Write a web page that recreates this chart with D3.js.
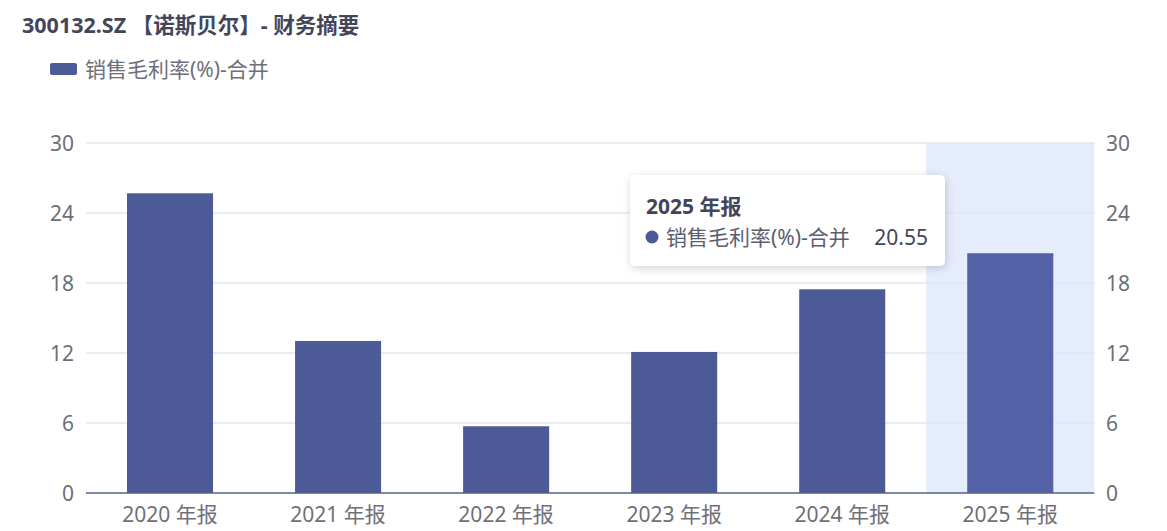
<!DOCTYPE html>
<html><head><meta charset="utf-8">
<script src="https://cdn.jsdelivr.net/npm/d3@7/dist/d3.min.js"></script>
<style>
html,body{margin:0;padding:0;background:#fff;}
svg{display:block;font-family:"Noto Sans","Noto Sans CJK SC",sans-serif;}
</style></head><body>
<svg id="c" width="1167" height="531"></svg>
<script>
const titleText = "300132.SZ 【诺斯贝尔】- 财务摘要";
const seriesName = "销售毛利率(%)-合并";
const categories = ["2020 年报","2021 年报","2022 年报","2023 年报","2024 年报","2025 年报"];
const values = [25.69, 13.03, 5.72, 12.09, 17.46, 20.55];
const yTicks = [0, 6, 12, 18, 24, 30];
const highlightIndex = 5;

(function(){
const svg = d3.select("#c");
const pl = 86, pr = 1094.3, pt = 143, pb = 493;
const fs = 21;

const x = d3.scaleBand().domain(categories).range([pl, pr]);
const y = d3.scaleLinear().domain([0, 30]).range([pb, pt]);
const barW = x.bandwidth() * 0.512;

// shadow
svg.append("rect")
  .attr("x", x(categories[highlightIndex])).attr("y", pt)
  .attr("width", x.bandwidth()).attr("height", pb - pt)
  .attr("fill", "#e5ecfc");

// grid
svg.append("g").selectAll("line").data(yTicks.filter(t => t > 0)).join("line")
  .attr("x1", pl).attr("x2", pr)
  .attr("y1", d => y(d)).attr("y2", d => y(d))
  .attr("stroke", "#e0e6f1").attr("stroke-width", 1.5);

// bars
svg.append("g").selectAll("rect").data(values).join("rect")
  .attr("x", (d, i) => x(categories[i]) + (x.bandwidth() - barW) / 2)
  .attr("y", d => y(d))
  .attr("width", barW)
  .attr("height", d => pb - y(d))
  .attr("fill", (d, i) => i === highlightIndex ? "#5361a6" : "#4d5a98");

// x axis line
svg.append("line").attr("x1", pl).attr("x2", pr)
  .attr("y1", pb).attr("y2", pb)
  .attr("stroke", "#54608f").attr("stroke-width", 1.5);

// y axis labels (left & right)
const yl = svg.append("g").attr("font-size", fs).attr("fill", "#6e7079");
yl.selectAll("text.l").data(yTicks).join("text").attr("class", "l")
  .attr("x", 74).attr("y", d => y(d)).attr("dy", "0.36em")
  .attr("text-anchor", "end").text(d => d);
yl.selectAll("text.r").data(yTicks).join("text").attr("class", "r")
  .attr("x", 1106).attr("y", d => y(d)).attr("dy", "0.36em")
  .attr("text-anchor", "start").text(d => d);

// x labels
svg.append("g").attr("font-size", fs).attr("fill", "#6e7079")
  .selectAll("text").data(categories).join("text")
  .attr("x", d => x(d) + x.bandwidth() / 2).attr("y", 514).attr("dy", "0.36em")
  .attr("text-anchor", "middle").text(d => d);

// title
svg.append("text").attr("x", 22).attr("y", 25).attr("dy", "0.36em")
  .attr("font-size", 21.5).attr("font-weight", "bold").attr("fill", "#434659")
  .text(titleText);

// legend
svg.append("rect").attr("x", 50).attr("y", 63).attr("width", 27).attr("height", 12)
  .attr("rx", 2).attr("fill", "#4d5a98");
svg.append("text").attr("x", 85).attr("y", 69).attr("dy", "0.36em")
  .attr("font-size", fs).attr("fill", "#6e7079").text(seriesName);

// tooltip
const defs = svg.append("defs");
const f = defs.append("filter").attr("id", "sh").attr("x", "-20%").attr("y", "-30%").attr("width", "140%").attr("height", "160%");
f.append("feDropShadow").attr("dx", 1).attr("dy", 2).attr("stdDeviation", 4).attr("flood-color", "#000").attr("flood-opacity", 0.18);
const tt = svg.append("g");
tt.append("rect").attr("x", 630).attr("y", 175).attr("width", 315).attr("height", 91)
  .attr("rx", 5).attr("fill", "#fff").attr("filter", "url(#sh)");
tt.append("text").attr("x", 646).attr("y", 206).attr("dy", "0.36em")
  .attr("font-size", fs).attr("font-weight", "bold").attr("fill", "#434659")
  .text(categories[highlightIndex]);
tt.append("circle").attr("cx", 652).attr("cy", 237).attr("r", 6.5).attr("fill", "#4d5a98");
tt.append("text").attr("x", 666).attr("y", 237).attr("dy", "0.36em")
  .attr("font-size", fs).attr("fill", "#5a5e70").text(seriesName);
tt.append("text").attr("x", 928).attr("y", 237).attr("dy", "0.36em")
  .attr("font-size", fs).attr("text-anchor", "end").attr("fill", "#434659")
  .text(values[highlightIndex].toFixed(2));
})();
</script>
</body></html>
